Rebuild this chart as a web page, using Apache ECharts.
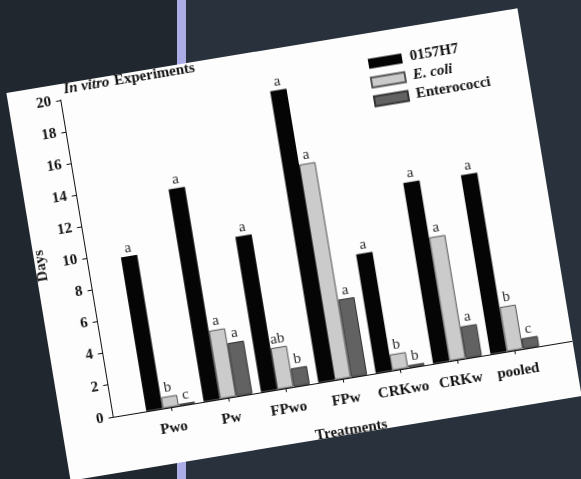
<!DOCTYPE html>
<html><head><meta charset="utf-8">
<script src="https://cdn.jsdelivr.net/npm/echarts@6/dist/echarts.min.js"></script>
<style>
html,body{margin:0;padding:0;width:581px;height:479px;overflow:hidden;background:#29323c;}
#bgL{position:absolute;left:0;top:0;width:177px;height:479px;background:#20272f;}
#strip{position:absolute;left:177px;top:0;width:9px;height:479px;background:#abace6;}
#paper{position:absolute;left:34.6px;top:48.4px;width:518px;height:393px;background:#fdfdfd;transform:rotate(-9.4deg);overflow:hidden;}
#chart{width:518px;height:393px;}
</style></head>
<body>
<div id="bgL"></div><div id="strip"></div>
<div id="paper"><div id="chart"></div></div>
<script>
const categories = ['Pwo','Pw','FPwo','FPw','CRKwo','CRKw','pooled'];
const seriesNames = ['0157H7','E. coli','Enterococci'];
const o157h7 = [9.7, 13.4, 9.8, 18.4, 7.5, 11.4, 11.3];
const eColi = [0.7, 4.3, 2.6, 13.6, 1.0, 7.8, 2.8];
const enterococci = [0.1, 3.35, 1.15, 4.9, 0.15, 2.0, 0.65];
const o157h7Letters = ['a','a','a','a','a','a','a'];
const eColiLetters = ['b','a','ab','a','b','a','b'];
const enterococciLetters = ['c','a','b','a','b','a','c'];
const yMin = 0, yMax = 20, yStep = 2;

const FONT = 'Liberation Serif';
const padCats = [''].concat(categories, ['']);
function pad(a){ return ['-'].concat(a, ['-']); }

function makeSeries(name, values, letters, color, border){
  return {
    name: name, type: 'bar', barWidth: 16.5, barGap: '0%',
    data: pad(values),
    itemStyle: {color: color, borderColor: border || color, borderWidth: border ? 1 : 0},
    label: {show: true, position: 'top', distance: 1, fontFamily: FONT, fontSize: 15, color: '#2a2a2a',
      formatter: function(p){ return letters[p.dataIndex - 1] || ''; }},
    emphasis: {disabled: true}
  };
}

const chart = echarts.init(document.getElementById('chart'), null, {renderer: 'canvas'});
chart.setOption({
  animation: false,
  backgroundColor: 'transparent',
  title: {
    text: '{i|In vitro} {b|Experiments}', left: 57, top: -3, padding: 0,
    textStyle: {rich: {
      i: {fontFamily: FONT, fontStyle: 'italic', fontWeight: 'bold', fontSize: 15, color: '#111'},
      b: {fontFamily: FONT, fontWeight: 'bold', fontSize: 15, color: '#111'}
    }}
  },
  legend: {
    orient: 'vertical', left: 361, top: 23, padding: 0,
    itemWidth: 34, itemHeight: 10, itemGap: 4, icon: 'rect', selectedMode: false,
    data: seriesNames,
    formatter: function(n){ return n === 'E. coli' ? '{i|' + n + '}' : '{b|' + n + '}'; },
    textStyle: {padding: [0,0,0,3], rich: {
      i: {fontFamily: FONT, fontStyle: 'italic', fontWeight: 'bold', fontSize: 15, color: '#111', lineHeight: 15},
      b: {fontFamily: FONT, fontWeight: 'bold', fontSize: 15, color: '#111', lineHeight: 15}
    }}
  },
  grid: {left: 52.7, top: 15.8, right: 0.2, bottom: 56.2, containLabel: false, outerBoundsMode: 'none'},
  xAxis: {
    type: 'category', data: padCats, boundaryGap: false,
    name: 'Treatments', nameLocation: 'middle', nameGap: 45,
    nameTextStyle: {fontFamily: FONT, fontWeight: 'bold', fontSize: 15, color: '#111'},
    axisLine: {show: true, lineStyle: {color: '#111', width: 1}},
    axisTick: {show: true, inside: false, length: 4, lineStyle: {color: '#111'},
      interval: function(i, v){ return v !== ''; }},
    axisLabel: {show: true, margin: 14, fontFamily: FONT, fontWeight: 'bold', fontSize: 15, color: '#111',
      interval: 0},
    splitLine: {show: false}
  },
  yAxis: {
    type: 'value', min: yMin, max: yMax, interval: yStep,
    name: 'Days', nameLocation: 'middle', nameGap: 39, nameRotate: 90,
    nameTextStyle: {fontFamily: FONT, fontWeight: 'bold', fontSize: 15, color: '#111'},
    axisLine: {show: true, lineStyle: {color: '#111', width: 1}},
    axisTick: {show: true, inside: false, length: 5, lineStyle: {color: '#111'}},
    axisLabel: {show: true, margin: 10, fontFamily: FONT, fontWeight: 'bold', fontSize: 15, color: '#111'},
    splitLine: {show: false}
  },
  series: [
    makeSeries(seriesNames[0], o157h7, o157h7Letters, '#050505', null),
    makeSeries(seriesNames[1], eColi, eColiLetters, '#cbcbcb', '#555'),
    makeSeries(seriesNames[2], enterococci, enterococciLetters, '#626262', '#333')
  ]
});
</script>
</body></html>
